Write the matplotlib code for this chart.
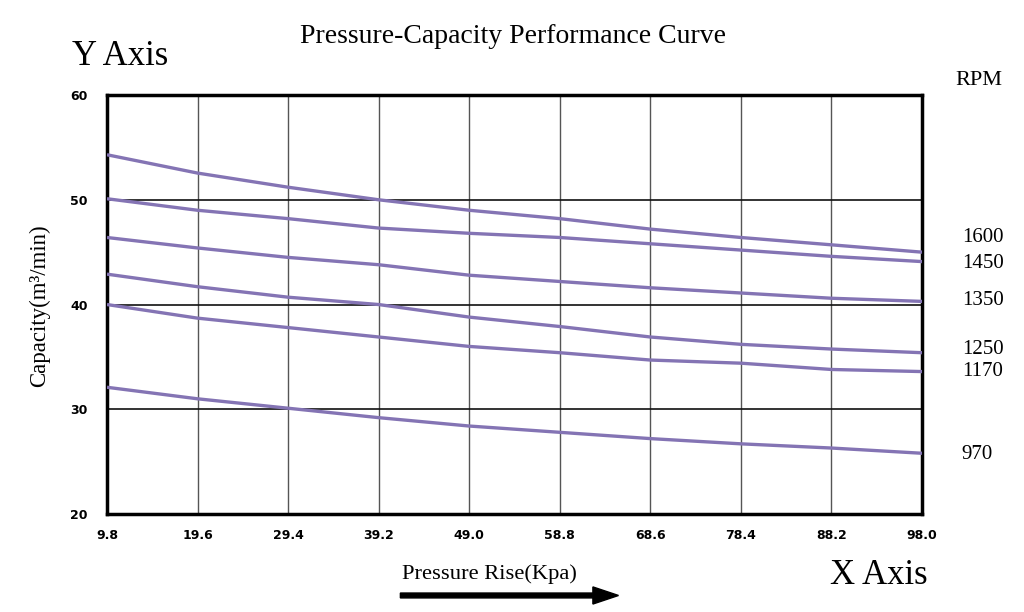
import matplotlib
matplotlib.use("Agg")
import matplotlib.pyplot as plt
from matplotlib.patches import FancyArrow

# pressure rise (Kpa) ticks and curve values read at each grid line
pressure = [9.8, 19.6, 29.4, 39.2, 49.0, 58.8, 68.6, 78.4, 88.2, 98.0]
xtick_labels = ["9.8", "19.6", "29.4", "39.2", "49.0", "58.8", "68.6", "78.4", "88.2", "98.0"]

rpm_1600 = [54.3, 52.55, 51.2, 50.0, 49.0, 48.2, 47.2, 46.4, 45.7, 45.0]
rpm_1450 = [50.1, 49.0, 48.2, 47.3, 46.8, 46.4, 45.8, 45.2, 44.6, 44.1]
rpm_1350 = [46.4, 45.4, 44.5, 43.8, 42.8, 42.2, 41.6, 41.1, 40.6, 40.3]
rpm_1250 = [42.9, 41.7, 40.7, 40.0, 38.8, 37.9, 36.9, 36.2, 35.75, 35.4]
rpm_1170 = [40.0, 38.7, 37.8, 36.9, 36.0, 35.4, 34.7, 34.4, 33.8, 33.6]
rpm_970 = [32.1, 31.0, 30.1, 29.2, 28.4, 27.8, 27.2, 26.7, 26.3, 25.8]

curves = [rpm_1600, rpm_1450, rpm_1350, rpm_1250, rpm_1170, rpm_970]
rpm_labels = ["1600", "1450", "1350", "1250", "1170", "970"]
label_y = [46.4, 43.9, 40.4, 35.7, 33.6, 25.7]

serif = "Liberation Serif"
line_col = "#8474b4"

fig = plt.figure(figsize=(10.24, 6.12), dpi=100)
ax = fig.add_axes([0.1045, 0.1601, 0.7959, 0.6846])

for ycurve in curves:
    ax.plot(pressure, ycurve, color=line_col, lw=2.4, solid_capstyle="butt", zorder=3)

ax.set_xlim(9.8, 98.0)
ax.set_ylim(20, 60)
ax.set_xticks(pressure)
ax.set_xticklabels(xtick_labels)
ax.set_yticks([20, 30, 40, 50, 60])
ax.tick_params(axis="x", length=0, pad=11, labelsize=9)
ax.tick_params(axis="y", length=0, pad=14, labelsize=9)
for lab in ax.get_xticklabels() + ax.get_yticklabels():
    lab.set_fontweight("bold")
    lab.set_fontfamily("DejaVu Sans")

# grid: grey verticals, black horizontals
for xv in pressure[1:-1]:
    ax.axvline(xv, color="#555555", lw=1.0, zorder=1)
for yv in [30, 40, 50]:
    ax.axhline(yv, color="#111111", lw=1.2, zorder=1)

for sp in ax.spines.values():
    sp.set_linewidth(2.5)
    sp.set_color("black")

fig.text(0.039, 0.50, "Capacity(m³/min)", fontfamily=serif, fontsize=16.5,
         rotation=90, ha="center", va="center")

# right-hand RPM labels
for lab, yv in zip(rpm_labels, label_y):
    ax.text(1.0488, (yv - 20) / 40, lab, transform=ax.transAxes, fontfamily=serif,
            fontsize=15, ha="left", va="center")
fig.text(0.956, 0.869, "RPM", fontfamily=serif, fontsize=16, ha="center", va="center")

fig.text(0.501, 0.941, "Pressure-Capacity Performance Curve", fontfamily=serif,
         fontsize=20, ha="center", va="center")
fig.text(0.070, 0.908, "Y Axis", fontfamily=serif, fontsize=25, ha="left", va="center")
fig.text(0.906, 0.059, "X Axis", fontfamily=serif, fontsize=25, ha="right", va="center")
fig.text(0.393, 0.062, "Pressure Rise(Kpa)", fontfamily=serif, fontsize=16.2,
         ha="left", va="center")

arrow = FancyArrow(0.391, 0.027, 0.213, 0.0, width=0.008, head_width=0.028,
                   head_length=0.025, length_includes_head=True,
                   transform=fig.transFigure, color="black")
fig.patches.append(arrow)

fig.savefig("out.png", dpi=100)
